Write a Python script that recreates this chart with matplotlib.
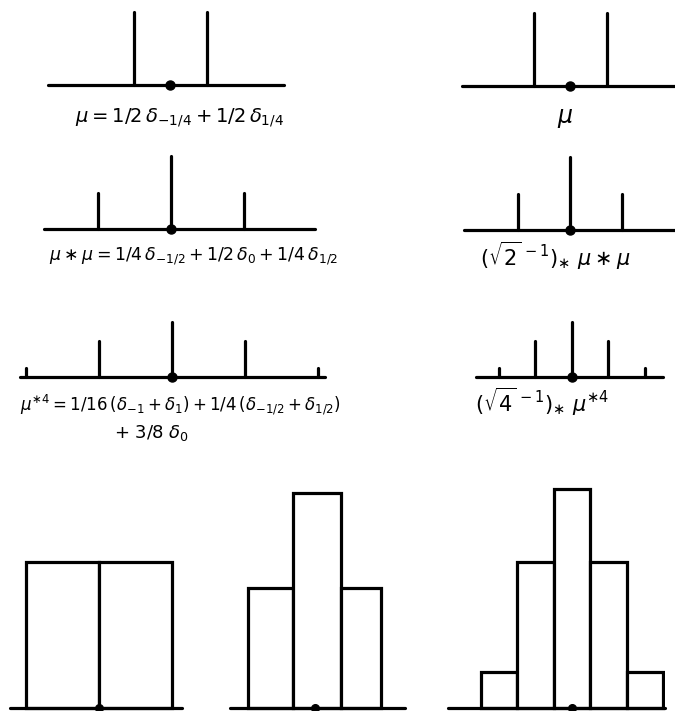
import matplotlib
matplotlib.use("Agg")
import matplotlib.pyplot as plt

# ---- measures as point masses: positions and masses ----
mu_pos = [-0.25, 0.25]
mu_mass = [0.5, 0.5]

mu2_pos = [-0.5, 0.0, 0.5]
mu2_mass = [0.25, 0.5, 0.25]

mu2s_pos = [-0.354, 0.0, 0.354]
mu2s_mass = [0.25, 0.5, 0.25]

mu4_pos = [-1.0, -0.5, 0.0, 0.5, 1.0]
mu4_mass = [0.0625, 0.25, 0.375, 0.25, 0.0625]

mu4s_pos = [-0.5, -0.25, 0.0, 0.25, 0.5]
mu4s_mass = [0.0625, 0.25, 0.375, 0.25, 0.0625]

# ---- histograms: bin edges and densities ----
h1_edges = [-0.5, 0.0, 0.5]
h1_dens = [1.0, 1.0]

h2_edges = [-0.46, -0.15, 0.18, 0.45]
h2_dens = [0.82, 1.47, 0.82]

h3_edges = [-0.625, -0.375, -0.125, 0.125, 0.375, 0.625]
h3_dens = [0.25, 1.0, 1.5, 1.0, 0.25]

labels = {
    "mu": r"$\mu = 1/2\,\delta_{-1/4} + 1/2\,\delta_{1/4}$",
    "mu_r": r"$\mu$",
    "mu2": r"$\mu\ast\mu = 1/4\,\delta_{-1/2} + 1/2\,\delta_0 + 1/4\,\delta_{1/2}$",
    "mu2_r": r"$(\sqrt{2}^{\,-1})_{\ast}\ \mu \ast \mu$",
    "mu4": r"$\mu^{\ast 4} = 1/16\,(\delta_{-1} + \delta_1) + 1/4\,(\delta_{-1/2} + \delta_{1/2})$",
    "mu4b": r"$+\ 3/8\ \delta_0$",
    "mu4_r": r"$(\sqrt{4}^{\,-1})_{\ast}\ \mu^{\ast 4}$",
}

W, H, DPI = 675, 711, 100
S = 146.0          # pixels per unit, both directions
LW = 2.3

fig = plt.figure(figsize=(W / DPI, H / DPI), dpi=DPI)
fig.patch.set_facecolor("white")


def panel(cx, base, x0, x1, above=170, below=8):
    """Axes whose x-origin sits at pixel cx and baseline at pixel row base."""
    ax = fig.add_axes([x0 / W, (H - base - below) / H,
                       (x1 - x0) / W, (above + below) / H])
    ax.set_xlim((x0 - cx) / S, (x1 - cx) / S)
    ax.set_ylim(-below / S, above / S)
    for side in ("top", "left", "right"):
        ax.spines[side].set_visible(False)
    ax.spines["bottom"].set_position(("data", 0))
    ax.spines["bottom"].set_linewidth(LW)
    ax.spines["bottom"].set_capstyle("round")
    ax.set_xticks([])
    ax.set_yticks([])
    ax.patch.set_alpha(0)
    return ax


def spikes(ax, pos, mass):
    ax.vlines(pos, 0, mass, colors="black", linewidth=LW, capstyle="round")
    ax.plot([0], [0], "o", color="black", markersize=6.5, clip_on=False, zorder=5)


def hist(ax, edges, dens):
    widths = [b - a for a, b in zip(edges[:-1], edges[1:])]
    ax.bar(edges[:-1], dens, width=widths, align="edge",
           facecolor="white", edgecolor="black", linewidth=LW, zorder=2)
    ax.plot([0], [0], "o", color="black", markersize=5.5, clip_on=False, zorder=5)


def label(x, y, s, size=15, ha="center"):
    fig.text(x / W, 1 - y / H, s, ha=ha, va="center", fontsize=size, color="black")


# row 1: mu
spikes(panel(170, 85, 48, 284), mu_pos, mu_mass)
spikes(panel(570, 86, 462, 675), mu_pos, mu_mass)
label(180, 118, labels["mu"], size=14)
label(565, 118, labels["mu_r"], size=17)

# row 2: mu * mu
spikes(panel(171, 229, 44, 315), mu2_pos, mu2_mass)
spikes(panel(570, 230, 464, 675), mu2s_pos, mu2s_mass)
label(194, 256, labels["mu2"], size=12.5)
label(555, 256, labels["mu2_r"])

# row 3: mu^{*4}
spikes(panel(172, 377, 20, 325), mu4_pos, mu4_mass)
spikes(panel(572, 377, 476, 663), mu4s_pos, mu4s_mass)
label(180, 405, labels["mu4"], size=12)
label(152, 433, labels["mu4b"], size=13)
label(542, 402, labels["mu4_r"])

# row 4: histograms
hist(panel(99, 708, 10, 182, above=240, below=3), h1_edges, h1_dens)
hist(panel(315, 708, 230, 405, above=240, below=3), h2_edges, h2_dens)
hist(panel(572, 708, 448, 665, above=240, below=3), h3_edges, h3_dens)

fig.savefig("out.png", dpi=DPI, facecolor="white")
